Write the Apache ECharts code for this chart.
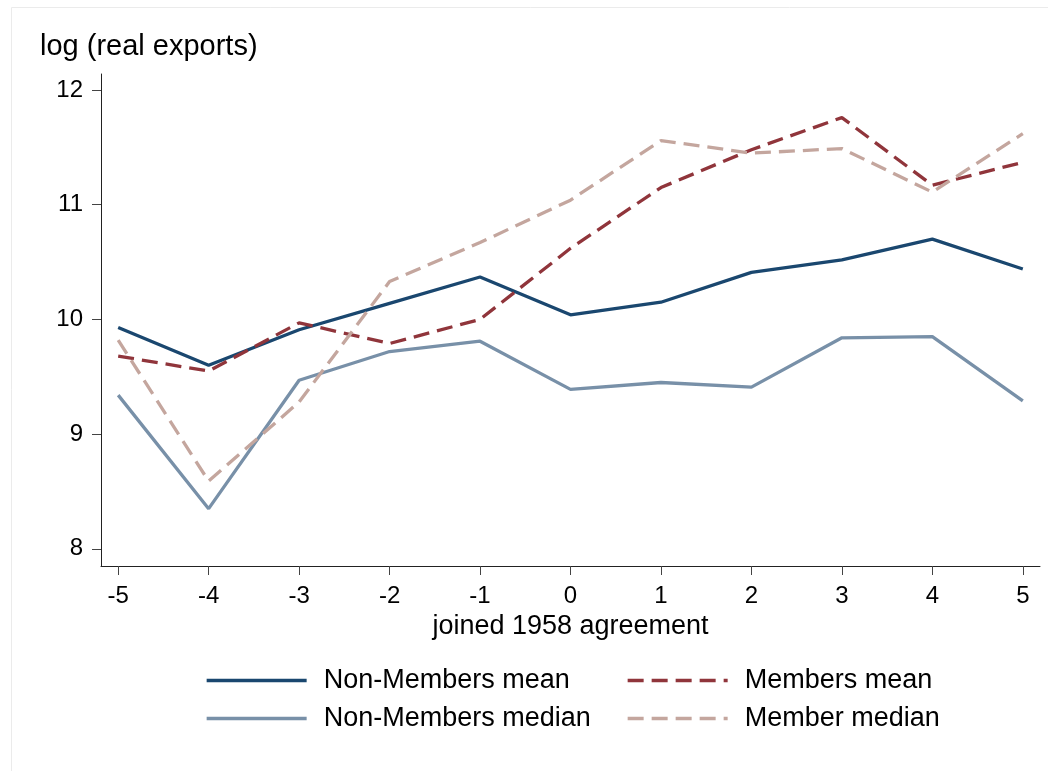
<!DOCTYPE html>
<html>
<head>
<meta charset="utf-8">
<script src="https://cdn.jsdelivr.net/npm/echarts@6/dist/echarts.min.js"></script>
<style>
  html, body { margin: 0; padding: 0; background: #fff; }
  #chart { width: 1048px; height: 771px; }
</style>
</head>
<body>
<div id="chart"></div>
<script>
// ---- data ----
const years = [-5, -4, -3, -2, -1, 0, 1, 2, 3, 4, 5];
const nonMembersMean   = [9.93, 9.60, 9.91, 10.14, 10.37, 10.04, 10.15, 10.41, 10.52, 10.70, 10.44];
const membersMean      = [9.68, 9.55, 9.97, 9.79, 10.00, 10.62, 11.15, 11.48, 11.76, 11.17, 11.37];
const nonMembersMedian = [9.34, 8.35, 9.47, 9.72, 9.81, 9.39, 9.45, 9.41, 9.84, 9.85, 9.29];
const memberMedian     = [9.82, 8.59, 9.28, 10.33, 10.67, 11.04, 11.56, 11.45, 11.49, 11.11, 11.62];
const xTicks = [-5, -4, -3, -2, -1, 0, 1, 2, 3, 4, 5];
const yTicks = [8, 9, 10, 11, 12];
const yTitle = 'log (real exports)';
const xTitle = 'joined 1958 agreement';
const names = ['Non-Members mean', 'Members mean', 'Non-Members median', 'Member median'];

const pairs = vals => years.map((y, i) => [y, vals[i]]);
const FONT = '"Liberation Sans", Arial, sans-serif';
const LW = 3.3;

const legendBase = {
  orient: 'vertical', top: 667, padding: 0,
  itemWidth: 100, itemHeight: 2, itemGap: 11,
  itemStyle: { opacity: 0 },
  lineStyle: { width: LW },
  textStyle: { fontFamily: FONT, fontSize: 27, color: '#000', lineHeight: 27, padding: [0, 0, 0, 12] }
};

const chart = echarts.init(document.getElementById('chart'), null, { renderer: 'canvas' });
chart.setOption({
  backgroundColor: '#ffffff',
  animation: false,
  graphic: [{
    type: 'rect', silent: true, z: -10,
    shape: { x: 11.5, y: 7.5, width: 1100, height: 800 },
    style: { fill: 'none', stroke: '#ebebeb', lineWidth: 1 }
  }],
  title: {
    text: yTitle, left: 40, top: 32, padding: 0,
    textStyle: { fontFamily: FONT, fontSize: 29, fontWeight: 'normal', color: '#000' }
  },
  grid: { left: 101, right: 8, top: 74, bottom: 205, containLabel: false },
  xAxis: {
    type: 'value', min: -5.19, max: 5.19,
    name: xTitle, nameLocation: 'middle', nameGap: 45,
    nameTextStyle: { fontFamily: FONT, fontSize: 27, color: '#000' },
    axisLine: { show: true, onZero: false, lineStyle: { color: '#222', width: 1 } },
    axisTick: { show: true, length: 9, customValues: xTicks, lineStyle: { color: '#444', width: 1 } },
    axisLabel: { customValues: xTicks, margin: 18, fontFamily: FONT, fontSize: 24, color: '#000' },
    splitLine: { show: false }
  },
  yAxis: {
    type: 'value', min: 7.85, max: 12.14,
    axisLine: { show: true, onZero: false, lineStyle: { color: '#222', width: 1 } },
    axisTick: { show: true, length: 9, customValues: yTicks, lineStyle: { color: '#444', width: 1 } },
    axisLabel: { customValues: yTicks, margin: 18, fontFamily: FONT, fontSize: 24, color: '#000' },
    splitLine: { show: false }
  },
  legend: [
    Object.assign({}, legendBase, { left: 205, data: [names[0], names[2]] }),
    Object.assign({}, legendBase, { left: 626, data: [names[1], names[3]] })
  ],
  series: [
    { name: names[0], type: 'line', data: pairs(nonMembersMean), symbol: 'none',
      lineStyle: { color: '#1a476f', width: LW }, itemStyle: { color: '#1a476f' } },
    { name: names[1], type: 'line', data: pairs(membersMean), symbol: 'none',
      lineStyle: { color: '#90353b', width: LW, type: [16, 8] }, itemStyle: { color: '#90353b' } },
    { name: names[2], type: 'line', data: pairs(nonMembersMedian), symbol: 'none',
      lineStyle: { color: '#7890a8', width: LW }, itemStyle: { color: '#7890a8' } },
    { name: names[3], type: 'line', data: pairs(memberMedian), symbol: 'none',
      lineStyle: { color: '#c4a69e', width: LW, type: [16, 8] }, itemStyle: { color: '#c4a69e' } }
  ]
});
</script>
</body>
</html>
